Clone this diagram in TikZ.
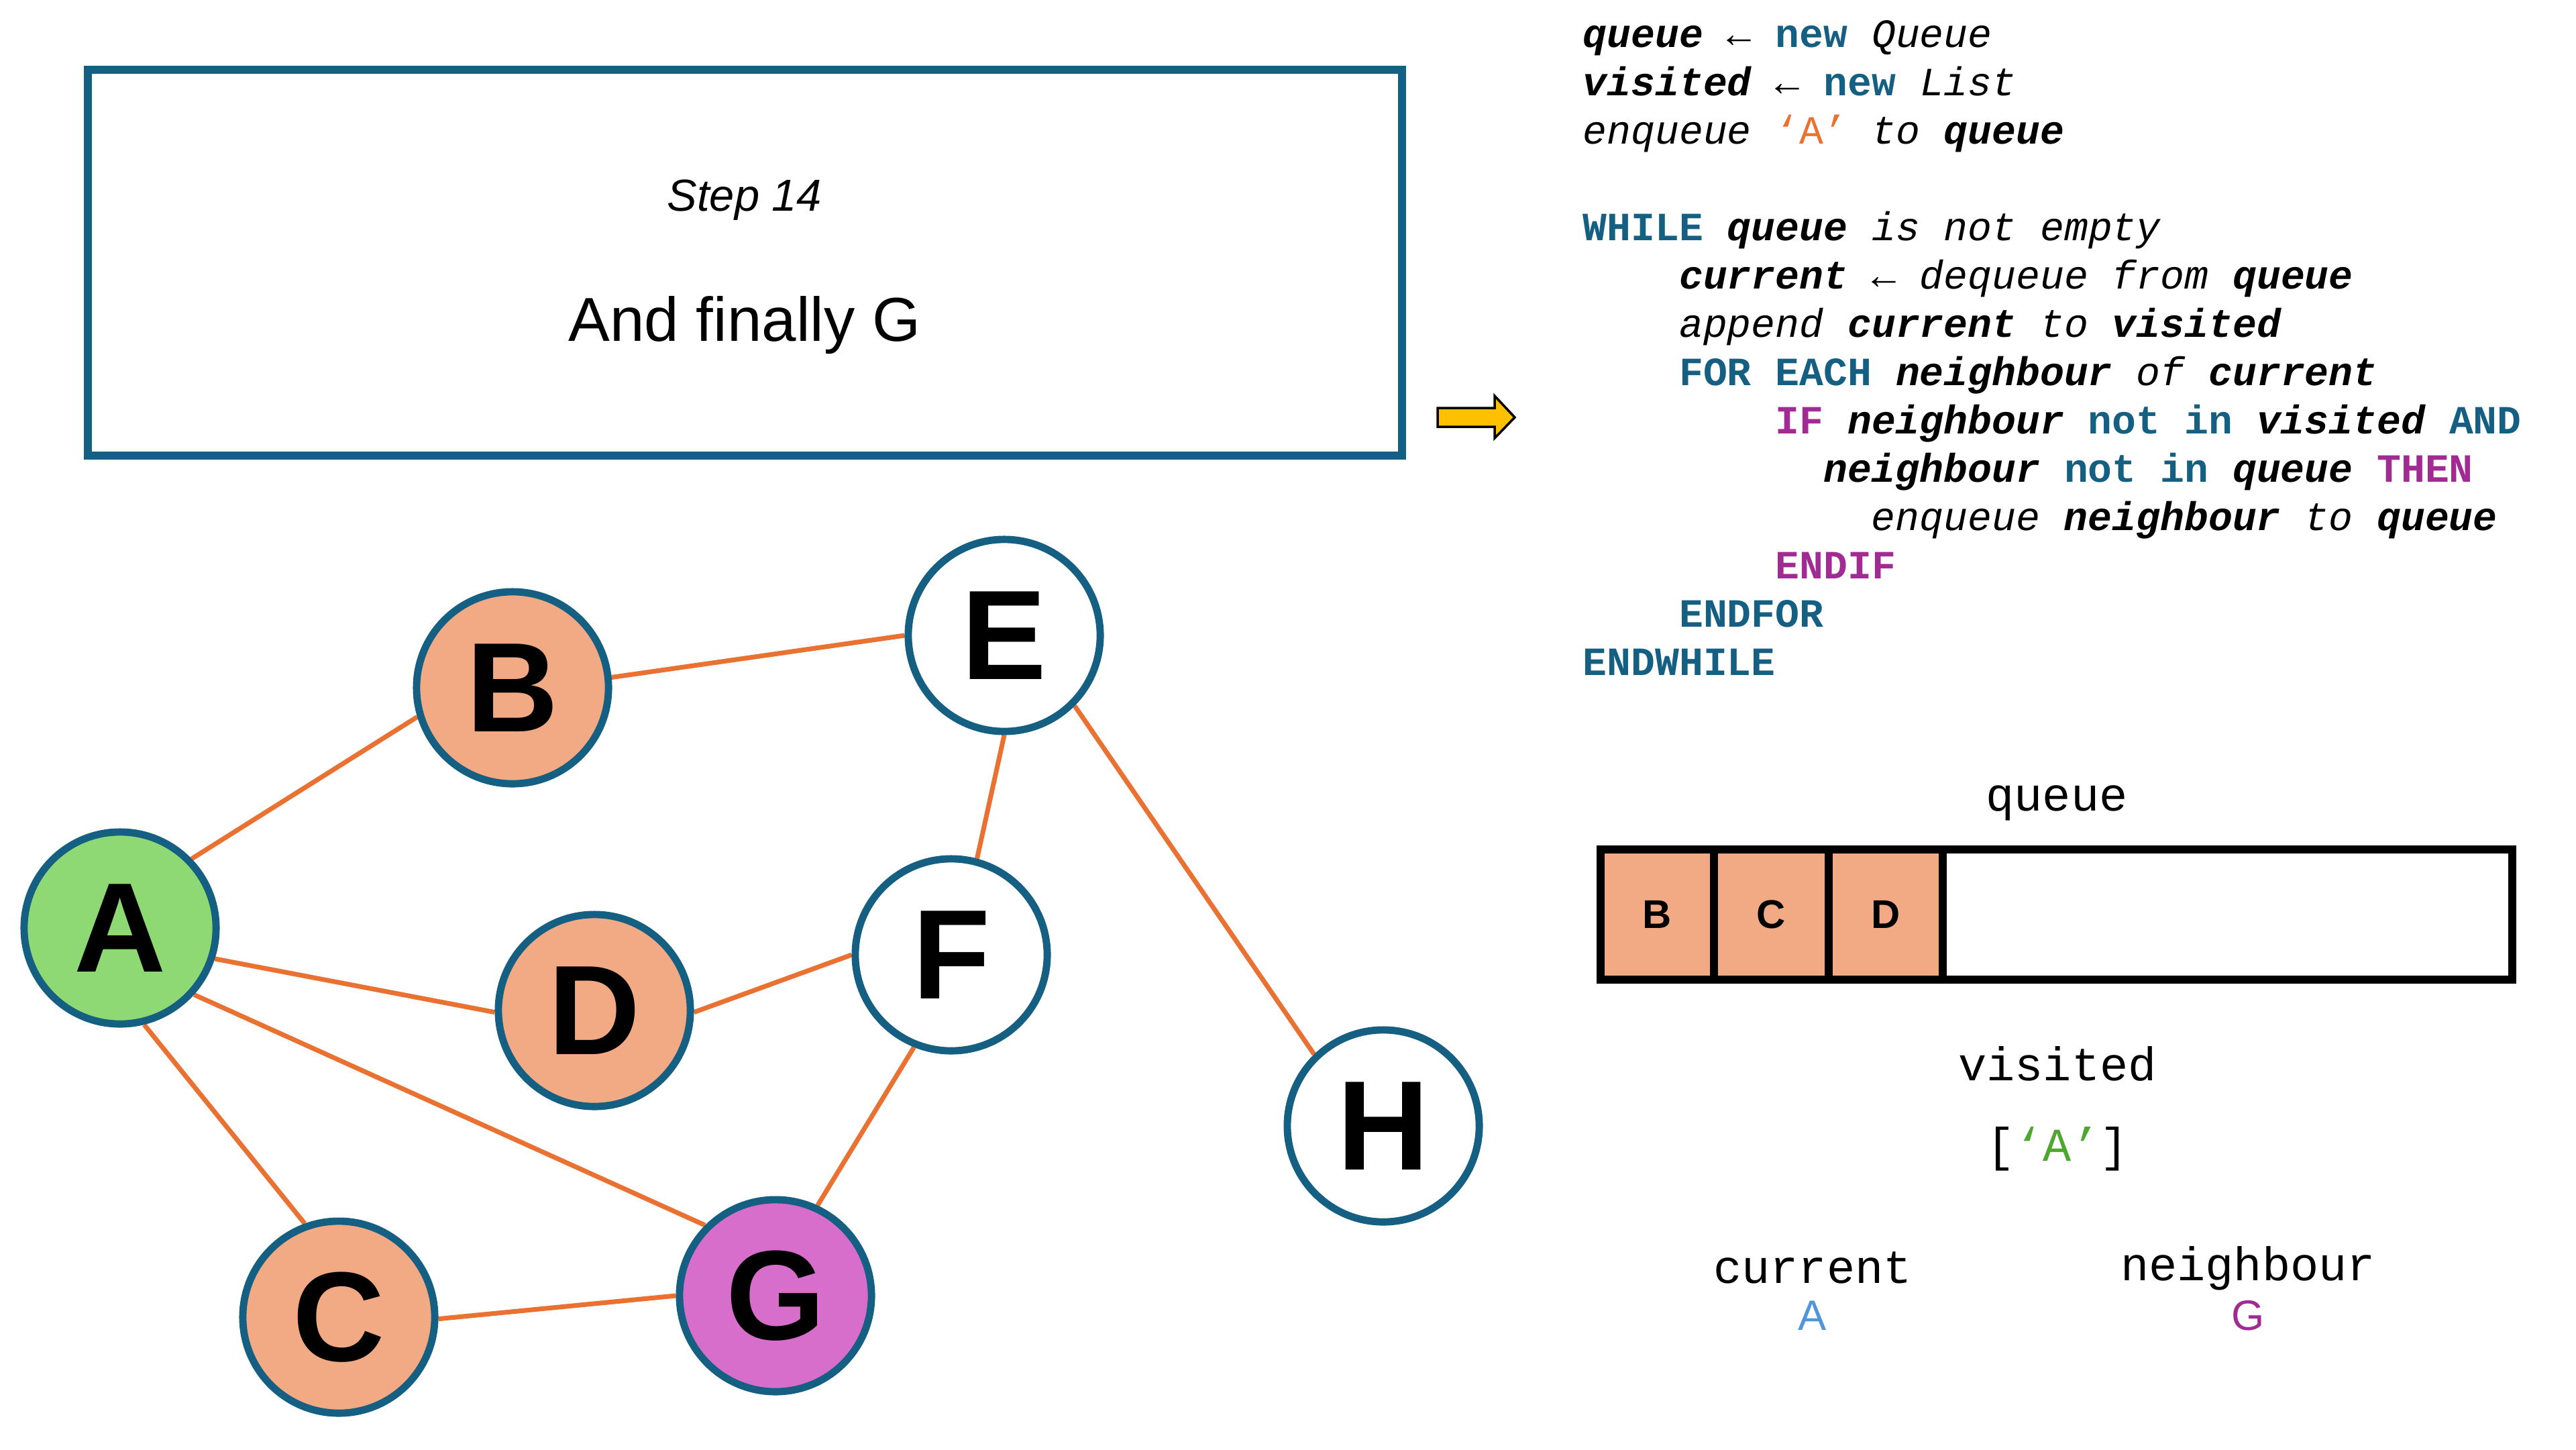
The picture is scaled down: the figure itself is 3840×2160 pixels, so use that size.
\documentclass[tikz,border=0pt]{standalone}
\usepackage{fontspec}
\setmainfont{Liberation Sans}
\newfontfamily\codefont{Liberation Mono}
\usetikzlibrary{backgrounds}

\definecolor{frameblue}{HTML}{156082}
\definecolor{kwblue}{HTML}{156082}
\definecolor{kwmag}{HTML}{A02B93}
\definecolor{edgeor}{HTML}{E97132}
\definecolor{peach}{HTML}{F1AA84}
\definecolor{startgreen}{HTML}{8ED973}
\definecolor{nbmag}{HTML}{D86ECC}
\definecolor{visgreen}{HTML}{4EA72E}
\definecolor{curblue}{HTML}{4E95D9}
\definecolor{arrowyellow}{HTML}{FFC000}

% pseudo-code helpers
\newcommand\kwb[1]{{\upshape\bfseries\color{kwblue}#1}}
\newcommand\kwm[1]{{\upshape\bfseries\color{kwmag}#1}}
\newcommand\vr[1]{{\bfseries\itshape #1}}

\begin{document}
\begin{tikzpicture}[x=0.01cm,y=-0.01cm,
  vertex/.style={circle, draw=frameblue, line width=3.1pt, minimum size=2.86cm,
    inner sep=0pt, font=\fontsize{54}{60}\selectfont\bfseries},
  link/.style={draw=edgeor, line width=2pt},
  codetext/.style={anchor=base west, inner sep=0pt,
    font=\codefont\fontsize{17}{20}\selectfont\itshape},
  label/.style={anchor=base, inner sep=0pt, font=\codefont\fontsize{20}{24}\selectfont},
  cell/.style={draw=black, fill=peach, line width=3.4pt, minimum height=1.94cm,
    inner sep=0pt, font=\fontsize{17}{20}\selectfont\bfseries},
]
\useasboundingbox (0,0) rectangle (3840,2160);

% caption frame
\node[draw=frameblue, line width=3.4pt, minimum width=19.57cm, minimum height=5.75cm,
  inner sep=0pt] (frame) at (1110.5,391.5) {};
\node[anchor=base, inner sep=0pt, font=\fontsize{19}{23}\selectfont\itshape]
  (steplbl) at (1110,314) {Step 14};
\node[anchor=base, inner sep=0pt, font=\fontsize{26.3}{32}\selectfont]
  (stepmsg) at (1110,508) {And finally G};

% graph vertices
\node[vertex, fill=startgreen] (A) at (179,1383) {A};
\node[vertex, fill=peach] (B) at (764,1025) {B};
\node[vertex, fill=white] (E) at (1497,947) {E};
\node[vertex, fill=peach] (D) at (886,1506) {D};
\node[vertex, fill=white] (F) at (1418,1423) {F};
\node[vertex, fill=white] (H) at (2062,1678) {H};
\node[vertex, fill=peach] (C) at (505,1963) {C};
\node[vertex, fill=nbmag] (G) at (1156,1931) {G};

% graph edges, attached at fixed points of each circle
\begin{pgfonlayer}{background}
\draw[link] (A.44) -- (B.197);
\draw[link] (B.6) -- (E.180);
\draw[link] (A.-18) -- (D.181);
\draw[link] (A.-42) -- (G.135);
\draw[link] (A.-76) -- (C.110);
\draw[link] (D.-1) -- (F.180);
\draw[link] (E.270) -- (F.75);
\draw[link] (E.-45) -- (H.134);
\draw[link] (F.248) -- (G.65);
\draw[link] (C.-1) -- (G.180);
\end{pgfonlayer}

% pointer arrow
\draw[fill=arrowyellow, draw=black, line width=1pt, line join=miter]
  (2143,608) -- (2228,608) -- (2228,590) -- (2258,622) -- (2228,653)
  -- (2228,636) -- (2143,636) -- cycle;

% pseudo-code
\node[codetext] (c0) at (2359,70) {\vr{queue} ← \kwb{new} Queue};
\node[codetext] (c1) at (2359,142) {\vr{visited} ← \kwb{new} List};
\node[codetext] (c2) at (2359,214) {enqueue {\upshape\color{edgeor}‘A’} to \vr{queue}};
\node[codetext] (c4) at (2359,358) {\kwb{WHILE} \vr{queue} is not empty};
\node[codetext] (c5) at (2502.4,430) {\vr{current} ← dequeue from \vr{queue}};
\node[codetext] (c6) at (2502.4,502) {append \vr{current} to \vr{visited}};
\node[codetext] (c7) at (2502.4,574) {\kwb{FOR EACH} \vr{neighbour} of \vr{current}};
\node[codetext] (c8) at (2645.8,646) {\kwm{IF} \vr{neighbour} \kwb{not in} \vr{visited} \kwb{AND}};
\node[codetext] (c9) at (2717.5,718) {\vr{neighbour} \kwb{not in} \vr{queue} \kwm{THEN}};
\node[codetext] (c10) at (2789.2,790) {enqueue \vr{neighbour} to \vr{queue}};
\node[codetext] (c11) at (2645.8,862) {\kwm{ENDIF}};
\node[codetext] (c12) at (2502.4,934) {\kwb{ENDFOR}};
\node[codetext] (c13) at (2359,1006) {\kwb{ENDWHILE}};

% queue contents
\node[label] (qlbl) at (3066,1208) {queue};
\node[draw=black, line width=3.4pt, minimum width=13.59cm, minimum height=1.94cm,
  inner sep=0pt] (qbox) at (3065.5,1363) {};
\node[cell, minimum width=1.69cm] (q1) at (2470.5,1363) {B};
\node[cell, minimum width=1.71cm] (q2) at (2640.5,1363) {C};
\node[cell, minimum width=1.70cm] (q3) at (2811,1363) {D};

% visited list
\node[label] (vlbl) at (3067,1610) {visited};
\node[label] (vlist) at (3067,1730) {[{\color{visgreen}‘A’}]};

% current and neighbour
\node[label] (curlbl) at (2702,1912) {current};
\node[anchor=base, inner sep=0pt, font=\fontsize{18}{22}\selectfont, text=curblue]
  (curval) at (2702,1982) {A};
\node[label] (nblbl) at (3351,1908) {neighbour};
\node[anchor=base, inner sep=0pt, font=\fontsize{18}{22}\selectfont, text=kwmag]
  (nbval) at (3351,1982) {G};
\end{tikzpicture}
\end{document}
